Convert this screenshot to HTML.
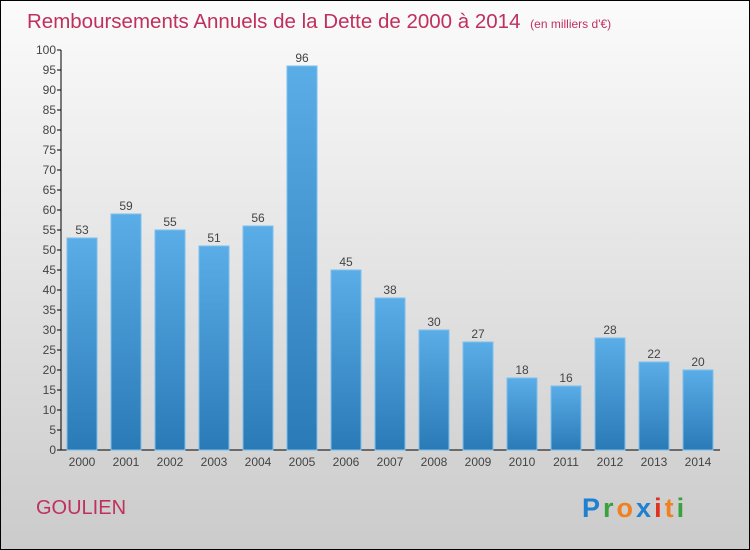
<!DOCTYPE html>
<html><head><meta charset="utf-8"><style>
body{margin:0;width:750px;height:550px;overflow:hidden}
svg{display:block;font-family:"Liberation Sans",sans-serif}
</style></head><body>
<svg width="750" height="550">
<defs>
<linearGradient id="bg" x1="0" y1="0" x2="0" y2="1"><stop offset="0" stop-color="#fbfbfb"/><stop offset="1" stop-color="#cbcbcb"/></linearGradient>
<linearGradient id="bar" x1="0" y1="0" x2="0" y2="1"><stop offset="0" stop-color="#5aade6"/><stop offset="1" stop-color="#2a7ab8"/></linearGradient>
</defs>
<rect x="0.5" y="0.5" width="749" height="549" fill="url(#bg)" stroke="#000"/>
<text x="27" y="28" font-size="20.5" fill="#c0305e">Remboursements Annuels de la Dette de 2000 à 2014 <tspan font-size="12" dx="4">(en milliers d'€)</tspan></text>
<g id="axes"></g>
<g id="bars"></g>
<text x="36" y="514" font-size="20" fill="#c0305e">GOULIEN</text>
<text x="582" y="517" font-size="27" font-weight="bold" letter-spacing="3"><tspan fill="#1f7fd0">P</tspan><tspan fill="#3aa040">r</tspan><tspan fill="#f08020">o</tspan><tspan fill="#1f7fd0">x</tspan><tspan fill="#e03020">i</tspan><tspan fill="#f08020">t</tspan><tspan fill="#3aa040">i</tspan></text>
</svg>
<script>
const categories=["2000","2001","2002","2003","2004","2005","2006","2007","2008","2009","2010","2011","2012","2013","2014"];
const values=[53,59,55,51,56,96,45,38,30,27,18,16,28,22,20];
const yTicks=[0,5,10,15,20,25,30,35,40,45,50,55,60,65,70,75,80,85,90,95,100];
const NS="http://www.w3.org/2000/svg";
const y=v=>450-v*4;
const xc=i=>82+i*44;
function mk(t,a,p){const e=document.createElementNS(NS,t);for(const k in a)e.setAttribute(k,a[k]);p.appendChild(e);return e;}
const ax=document.getElementById('axes'),bg=document.getElementById('bars');
const yl=mk('line',{x1:61,y1:50,x2:61,y2:450,stroke:'#000'},ax);


const xl=mk('line',{x1:61,y1:450,x2:720,y2:450,stroke:'#000'},ax);


yTicks.forEach(t=>{
  mk('line',{x1:57,y1:y(t),x2:61,y2:y(t),stroke:'#000'},ax);
  const tx=mk('text',{x:56,y:y(t)+4,'font-size':12,fill:'#444','text-anchor':'end'},ax);
  tx.textContent=t;
  
  
});
categories.forEach((c,i)=>{
  const r=mk('rect',{x:xc(i)-15,y:y(values[i]),width:30,height:values[i]*4,fill:'url(#bar)',stroke:'#7cc0ee','stroke-width':1},bg);
  
  
  const v=mk('text',{x:xc(i),y:y(values[i])-4,'font-size':12,fill:'#444','text-anchor':'middle'},bg);
  v.textContent=values[i];
  
  
  const l=mk('text',{x:xc(i),y:466,'font-size':12,fill:'#444','text-anchor':'middle'},bg);
  l.textContent=c;
  
  
});
</script>
</body></html>
